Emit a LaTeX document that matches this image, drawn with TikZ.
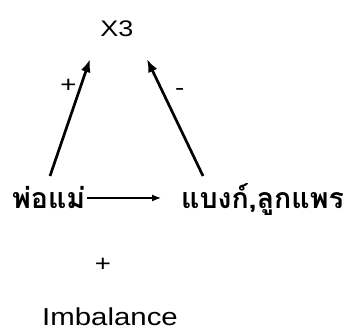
\documentclass[tikz,border=0pt]{standalone}
\usepackage{fontspec}
\setmainfont{Liberation Sans}[FakeStretch=1.2]
\newfontfamily\thaifont[Script=Thai]{Loma}
\usetikzlibrary{positioning,arrows.meta}

\begin{document}
\begin{tikzpicture}[
    x=1pt, y=1pt,
    var/.style={inner sep=0pt, font=\fontsize{22.5}{26}\selectfont},
    thvar/.style={inner sep=0pt, anchor=base west, font=\thaifont\bfseries\fontsize{28.5}{32}\selectfont},
    sign/.style={inner sep=0pt, font=\fontsize{23}{26}\selectfont},
    link/.style={-{Latex[length=13pt,width=10pt]}, line width=2.7pt},
    flow/.style={-{Latex[length=9pt,width=7pt]}, line width=1.2pt}
]
\useasboundingbox (0,0) rectangle (346,334);

% Nodes
\node[var] (X3) at (117,305) {X3};
\node[thvar] (P) at (12,125) {พ่อแม่};
\node[thvar] (B) at (181,125) {แบงก์,ลูกแพร};
\node[var, font=\fontsize{24.5}{28}\selectfont] (Imb) at (110,17) {Imbalance};

% Links into X3
\draw[link] ([xshift=38pt,yshift=33pt]P.base west) -- ([xshift=-27pt,yshift=-22pt]X3.south)
    node[sign, pos=0.77, left=3pt] {+};
\draw[link] ([xshift=22pt,yshift=33pt]B.base west) -- ([xshift=30pt,yshift=-22pt]X3.south)
    node[sign, pos=0.72, right=11pt] {-};

% Flow between parents and notes
\draw[flow] ([xshift=2pt,yshift=11pt]P.base east) -- ([xshift=-20pt,yshift=11pt]B.base west);

% Sign below
\node[sign] (s) at (103,69) {+};

\end{tikzpicture}
\end{document}
